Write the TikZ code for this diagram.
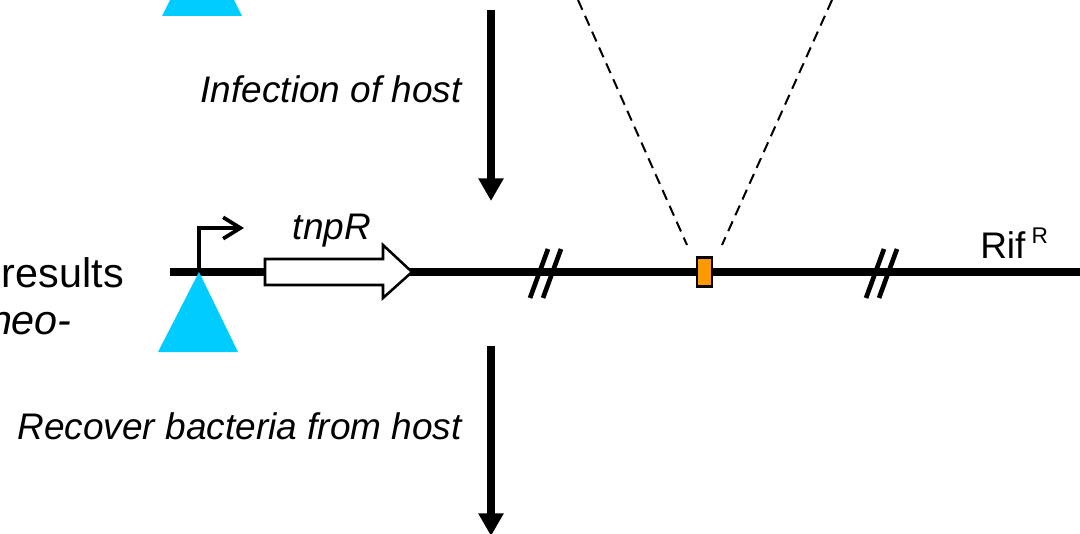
\documentclass[tikz,border=0pt]{standalone}
\usepackage{fontspec}
\setmainfont{Liberation Sans}
\usetikzlibrary{arrows.meta}
\definecolor{tricyan}{HTML}{00CCFF}
\definecolor{insorange}{HTML}{FF9900}
\begin{document}
\begin{tikzpicture}[x=0.75pt,y=-0.75pt,
  lbl/.style={font=\fontsize{27.75}{33}\selectfont\itshape, inner sep=0pt},
  rlbl/.style={font=\fontsize{27.75}{33}\selectfont, inner sep=0pt},
  side/.style={font=\fontsize{31}{36}\selectfont, inner sep=0pt},
  dna/.style={line width=5.4pt},
  bigarrow/.style={line width=5.8pt, -{Triangle[length=17pt,width=18pt]}},
  slash/.style={line width=3.5pt},
  vdash/.style={line width=1.5pt, dash pattern=on 8pt off 5pt},
  tri/.style={fill=tricyan, draw=none},
  insbox/.style={draw, fill=insorange, line width=1.6pt, minimum width=11.25pt, minimum height=21.75pt, inner sep=0pt}
]
\useasboundingbox (0,0) rectangle (1080,534);
\clip (0,0) rectangle (1080,534);

% top triangle (cut by the frame)
\fill[tri] (162,16) -- (242,16) -- (202,-64) -- cycle;

% arrows
\coordinate (a1s) at (491,10);
\coordinate (a1e) at (491,201);
\coordinate (a2s) at (491,346);
\coordinate (a2e) at (491,536);
\draw[bigarrow] (a1s) -- (a1e);
\draw[bigarrow] (a2s) -- (a2e);

\node[lbl, anchor=base east] (inf) at (462,103) {Infection of host};
\node[lbl, anchor=base east] (rec) at (462,439) {Recover bacteria from host};
\node[side, anchor=base east] (res) at (124,287) {results};
\node[side, anchor=base east, font=\fontsize{31}{36}\selectfont\itshape] (neo) at (72,334) {neo-};

% main DNA line
\coordinate (ls) at (170,272);
\coordinate (le) at (1080,272);
\draw[dna] (ls) -- (le);

% lower triangle
\fill[tri] (199,272) -- (238,352) -- (158,352) -- cycle;

% promoter
\coordinate (p0) at (199,272);
\coordinate (p1) at (199,228);
\coordinate (p2) at (244,228);
\draw[line width=3.1pt, -{Straight Barb[length=13pt,width=16pt,line width=2.8pt]}] (p0) -- (p1) -- (p2);

% tnpR gene arrow
\draw[line width=1.9pt, fill=white, line join=miter] (265,259) -- (383,259) -- (383,245) -- (412,272) -- (383,298) -- (383,285) -- (265,285) -- cycle;
\node[lbl, anchor=base] (tnp) at (332,240) {tnpR};

% break marks
\draw[slash] (530,298) -- (548,249);
\draw[slash] (543,298) -- (561,249);
\draw[slash] (866,298) -- (884,249);
\draw[slash] (879,298) -- (897,249);

% insertion
\node[insbox] (ins) at (704.5,272) {};
\coordinate (d1a) at (578,0);
\coordinate (d1b) at (687,245);
\coordinate (d2a) at (832,0);
\coordinate (d2b) at (722,245);
\draw[vdash] (d1a) -- (d1b);
\draw[vdash] (d2a) -- (d2b);

\node[rlbl, anchor=base west] (rif) at (980,259) {Rif\,\raisebox{0.42em}{\fontsize{17}{20}\selectfont R}};
\end{tikzpicture}
\end{document}
